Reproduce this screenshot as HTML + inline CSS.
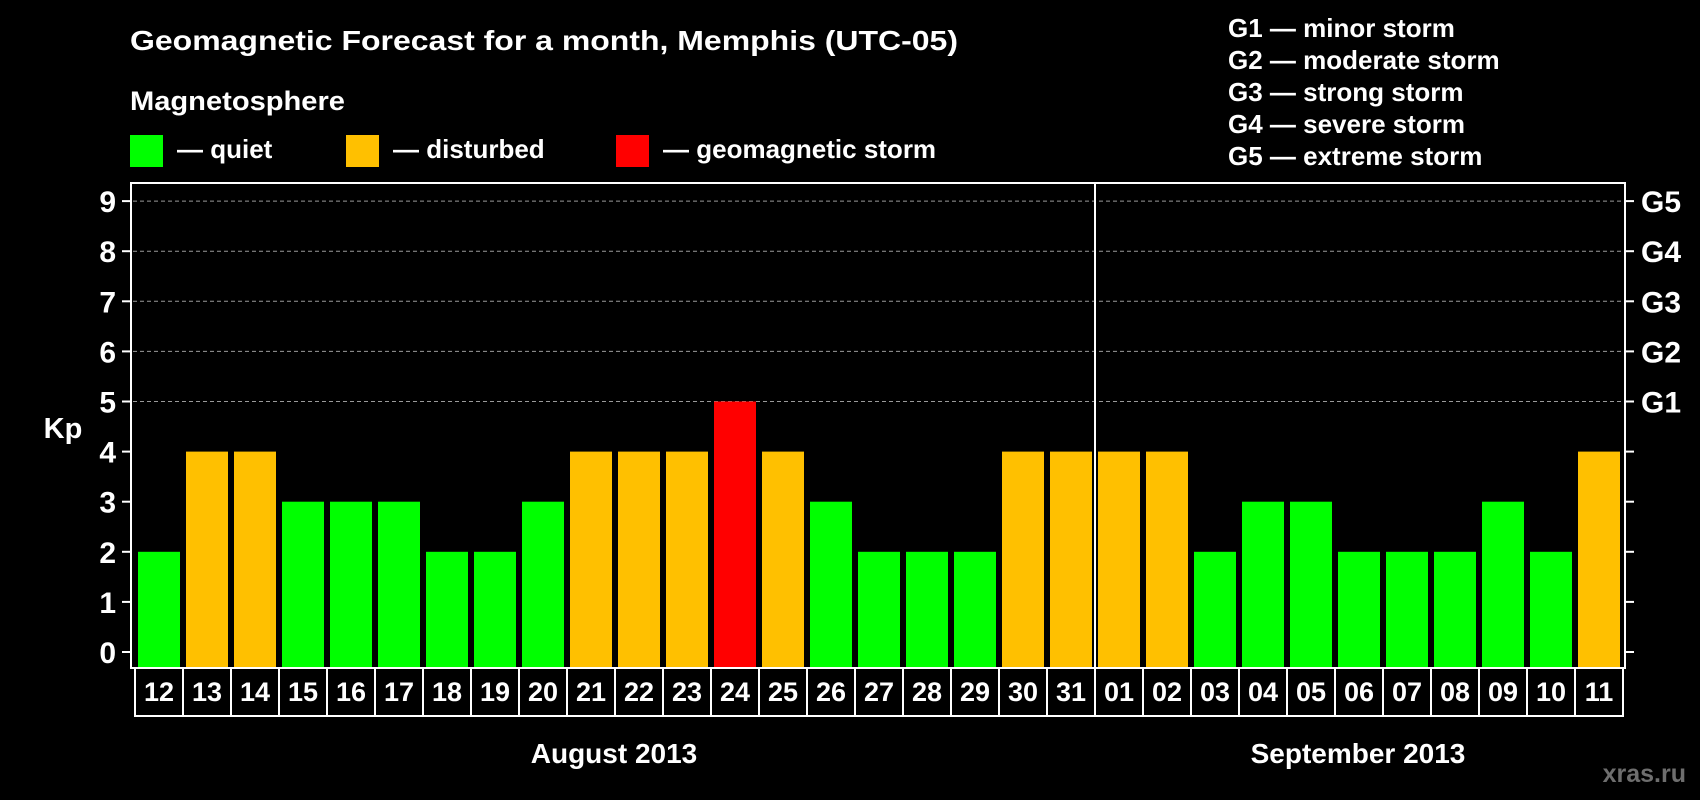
<!DOCTYPE html>
<html><head><meta charset="utf-8"><style>
html,body{margin:0;padding:0;background:#000;}
svg{display:block;font-family:"Liberation Sans",Arial,sans-serif;font-weight:bold;}
</style></head><body>
<svg id="chart" width="1700" height="800" viewBox="0 0 1700 800">
<rect x="0" y="0" width="1700" height="800" fill="#000"/>
<text x="130" y="50" font-size="28" fill="#fff" textLength="828" lengthAdjust="spacingAndGlyphs">Geomagnetic Forecast for a month, Memphis (UTC-05)</text>
<text x="130" y="110" font-size="27" fill="#fff" textLength="215" lengthAdjust="spacingAndGlyphs">Magnetosphere</text>
<g>
<rect x="130" y="135" width="33" height="32" fill="#00ff00"/>
<text x="177" y="158" font-size="26" fill="#fff">— quiet</text></g>
<g>
<rect x="346" y="135" width="33" height="32" fill="#ffc000"/>
<text x="393" y="158" font-size="26" fill="#fff">— disturbed</text></g>
<g>
<rect x="616" y="135" width="33" height="32" fill="#ff0000"/>
<text x="663" y="158" font-size="26" fill="#fff">— geomagnetic storm</text></g>
<g font-size="26" fill="#fff">
<text x="1228" y="37">G1 — minor storm</text>
<text x="1228" y="69">G2 — moderate storm</text>
<text x="1228" y="101">G3 — strong storm</text>
<text x="1228" y="133">G4 — severe storm</text>
<text x="1228" y="165">G5 — extreme storm</text>
</g>
<text x="63" y="438" font-size="29" fill="#fff" text-anchor="middle">Kp</text>
<text x="614" y="763" font-size="28" fill="#fff" text-anchor="middle">August 2013</text>
<text x="1358" y="763" font-size="28" fill="#fff" text-anchor="middle">September 2013</text>
<text x="1686" y="782" font-size="25" fill="#6e6e6e" text-anchor="end">xras.ru</text>
<g id="grid"></g><g id="bars"></g><g id="days"></g>
<rect x="131" y="183" width="1494" height="485" fill="none" stroke="#fff" stroke-width="2"/>
<line x1="1095" y1="183" x2="1095" y2="668" stroke="#fff" stroke-width="2"/>
</svg>
<script>
const days = ["12","13","14","15","16","17","18","19","20","21","22","23","24","25","26","27","28","29","30","31","01","02","03","04","05","06","07","08","09","10","11"];
const kpValues = [2,4,4,3,3,3,2,2,3,4,4,4,5,4,3,2,2,2,4,4,4,4,2,3,3,2,2,2,3,2,4];
const yTicks = [0,1,2,3,4,5,6,7,8,9];
const gLabels = ["","","","","","G1","G2","G3","G4","G5"];

const NS = "http://www.w3.org/2000/svg";
const slotX0 = 135, slotW = 48, barPad = 3, plotBottom = 668;
function xSlot(i){ return slotX0 + i*slotW; }
function yScale(v){ return 652 - v*50.1; }
function colorFor(v){ return v >= 5 ? "#ff0000" : (v >= 4 ? "#ffc000" : "#00ff00"); }
function mk(tag, attrs){ const e = document.createElementNS(NS, tag); for (const k in attrs) e.setAttribute(k, attrs[k]); return e; }

const grid = document.getElementById("grid");
yTicks.forEach((t, i) => {
  const y = yScale(t);
  if (t >= 5) {
    const gl = mk("line", {x1:133, x2:1623, y1:y, y2:y, stroke:"#9a9a9a", "stroke-width":1, "stroke-dasharray":"4,3"});
    
    
    grid.appendChild(gl);
  }
  const tl = mk("line", {x1:122, x2:131, y1:y, y2:y, stroke:"#fff", "stroke-width":2});
  
  
  grid.appendChild(tl);
  const tr = mk("line", {x1:1625, x2:1634, y1:y, y2:y, stroke:"#fff", "stroke-width":2});
  
  
  grid.appendChild(tr);
  const lab = mk("text", {x:116, y:y+11, "font-size":30, fill:"#fff", "text-anchor":"end"});
  lab.textContent = String(t);
  
  
  grid.appendChild(lab);
  if (gLabels[i]) {
    const g = mk("text", {x:1641, y:y+11, "font-size":30, fill:"#fff"});
    g.textContent = gLabels[i];
    
    
    grid.appendChild(g);
  }
});

const bars = document.getElementById("bars");
const dayG = document.getElementById("days");
kpValues.forEach((v, i) => {
  const x = xSlot(i) + barPad;
  const r = mk("rect", {x:x, y:yScale(v), width:slotW - 2*barPad, height:plotBottom - yScale(v), fill:colorFor(v)});
  
  
  bars.appendChild(r);
});
days.forEach((d, i) => {
  const b = mk("rect", {x:xSlot(i), y:plotBottom, width:slotW, height:48, fill:"none", stroke:"#fff", "stroke-width":2});
  
  
  dayG.appendChild(b);
  const t = mk("text", {x:xSlot(i) + slotW/2, y:701, "font-size":27, fill:"#fff", "text-anchor":"middle"});
  t.textContent = d;
  
  
  dayG.appendChild(t);
});
</script>
</body></html>
